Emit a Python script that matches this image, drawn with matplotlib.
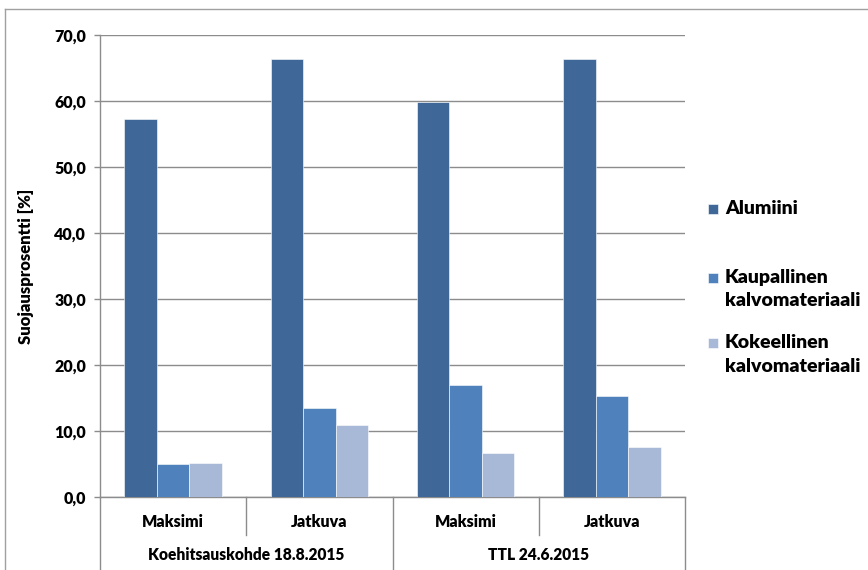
import matplotlib
matplotlib.use("Agg")
import matplotlib.pyplot as plt
from matplotlib.lines import Line2D
from matplotlib.patches import Rectangle
import numpy as np

plt.rcParams['font.family'] = ['Lato', 'DejaVu Sans']
plt.rcParams['font.weight'] = 'heavy'

# Data
measurements = ["Maksimi", "Jatkuva", "Maksimi", "Jatkuva"]
sites = ["Koehitsauskohde 18.8.2015", "TTL 24.6.2015"]
series = ["Alumiini", "Kaupallinen\nkalvomateriaali", "Kokeellinen\nkalvomateriaali"]
alumiini = [57.2, 66.4, 59.8, 66.3]
kaupallinen = [5.0, 13.5, 17.0, 15.3]
kokeellinen = [5.1, 10.9, 6.6, 7.6]
y_ticks = [0, 10, 20, 30, 40, 50, 60, 70]
y_label = "Suojausprosentti [%]"

colors = ["#3F6899", "#4F81BD", "#A8B9D7"]
grid_color = "#8C8C8C"
W_TXT = "heavy"

W, H = 868, 570
fig = plt.figure(figsize=(W / 100, H / 100), dpi=100)

def fx(px):
    return px / W

def fy(py):
    return 1 - py / H

ax_left, ax_right, ax_top, ax_bottom = 100, 685, 35, 497
ax = fig.add_axes([fx(ax_left), fy(ax_bottom), fx(ax_right - ax_left), (ax_bottom - ax_top) / H])

x = np.arange(len(measurements))
bw = 1 / 4.5
for i, vals in enumerate([alumiini, kaupallinen, kokeellinen]):
    ax.bar(x + (i - 1) * bw, vals, width=bw, color=colors[i], edgecolor="white",
           linewidth=0.4, zorder=3)

ax.set_xlim(-0.5, len(measurements) - 0.5)
ax.set_ylim(0, 70)
ax.set_yticks(y_ticks)
ax.set_yticklabels([f"{v:.1f}".replace(".", ",") for v in y_ticks], fontweight=W_TXT)
ax.yaxis.grid(True, color=grid_color, linewidth=1.0, zorder=0)
ax.set_axisbelow(True)
ax.tick_params(axis="y", length=4, width=1, color=grid_color, pad=6, labelsize=11.5)
ax.tick_params(axis="x", length=0, labelbottom=False)
for s in ["top", "right"]:
    ax.spines[s].set_visible(False)
for s in ["left", "bottom"]:
    ax.spines[s].set_color(grid_color)
    ax.spines[s].set_linewidth(1.0)

ax.set_ylabel(y_label, fontsize=12, fontweight=W_TXT)
ax.yaxis.set_label_coords((34 - ax_left) / (ax_right - ax_left), 0.5)

# Two-level category axis
trans = ax.get_xaxis_transform()
ax_h = ax_bottom - ax_top
short_y = -(535 - ax_bottom) / ax_h
long_y = -(H + 10 - ax_bottom) / ax_h
for b in np.arange(-0.5, len(measurements), 1.0):
    is_outer = (b == -0.5) or (b == len(measurements) - 0.5) or (b == 1.5)
    ax.add_line(Line2D([b, b], [0, long_y if is_outer else short_y], transform=trans,
                       color=grid_color, linewidth=1.0, clip_on=False))
for xi, lab in zip(x, measurements):
    ax.text(xi, -(522 - ax_bottom) / ax_h, lab, transform=trans, ha="center", va="center",
            fontsize=11.5, fontweight=W_TXT)
for gi, lab in enumerate(sites):
    ax.text(2 * gi + 0.5, -(555 - ax_bottom) / ax_h, lab, transform=trans, ha="center",
            va="center", fontsize=11.2, fontweight=W_TXT)

# Legend
legend_rows = [[209], [278, 301], [343, 366]]
for line_ys, name, col in zip(legend_rows, series, colors):
    fig.patches.append(Rectangle((fx(708), fy(line_ys[0] + 5)), fx(10), 10 / H,
                                 transform=fig.transFigure, facecolor=col,
                                 edgecolor="white", linewidth=0.4))
    for ly, part in zip(line_ys, name.split("\n")):
        fig.text(fx(725), fy(ly), part, ha="left", va="center", fontsize=14,
                 fontweight=W_TXT)

# Chart area border
fig.add_artist(Line2D([fx(5), fx(5)], [fy(9), 0], transform=fig.transFigure,
                      color="#A0A0A0", linewidth=1.0))
fig.add_artist(Line2D([fx(5), 1], [fy(9), fy(9)], transform=fig.transFigure,
                      color="#A0A0A0", linewidth=1.0))

fig.savefig("out.png", dpi=100)
